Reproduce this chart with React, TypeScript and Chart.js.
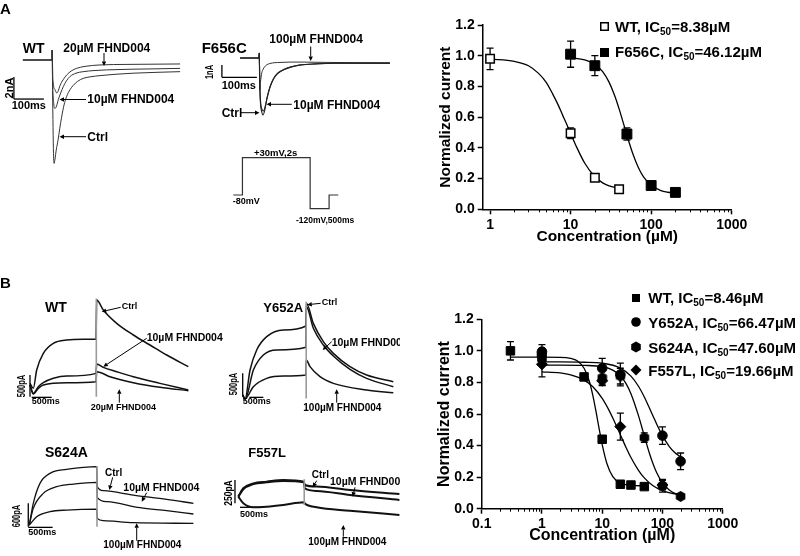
import React, { useEffect, useRef } from "react";
import { Chart, registerables } from "chart.js";

Chart.register(...registerables);

const FONT = '"Liberation Sans", Arial, Helvetica, sans-serif';
Chart.defaults.font.family = FONT;
Chart.defaults.color = "#000";

type XY = [number, number];

// ================= Panel A : dose-response (µM, normalized current) =================
const concA_WT = [1, 10, 20, 40];
const currA_WT = [0.98, 0.495, 0.205, 0.13];
const semA_WT = [0.07, 0.035, 0.015, 0.01];
const concA_F656C = [10, 20, 50, 100, 200];
const currA_F656C = [1.01, 0.935, 0.49, 0.155, 0.11];
const semA_F656C = [0.085, 0.065, 0.04, 0.012, 0.01];

const fitA_WT_conc = [1, 2, 3, 4, 5, 6, 7, 8, 9, 10, 12, 15, 20, 25, 30, 40];
const fitA_WT_curr = [0.978, 0.963, 0.935, 0.885, 0.825, 0.75, 0.68, 0.61, 0.55, 0.495, 0.4, 0.3, 0.212, 0.172, 0.153, 0.137];
const fitA_F656C_conc = [10, 15, 20, 25, 30, 35, 40, 45, 50, 60, 70, 80, 100, 130, 160, 200];
const fitA_F656C_curr = [0.986, 0.973, 0.945, 0.897, 0.828, 0.744, 0.654, 0.564, 0.482, 0.353, 0.267, 0.213, 0.156, 0.123, 0.111, 0.105];

const ticksA = [1, 10, 100, 1000];

// ================= Panel B : dose-response =================
const concB_WT = [0.3, 1, 5, 10, 20, 30, 50];
const currB_WT = [1.0, 0.96, 0.835, 0.44, 0.155, 0.15, 0.14];
const semB_WT = [0.058, 0.03, 0.012, 0.015, 0.012, 0.01, 0.012];
const concB_Y652A = [1, 10, 20, 100, 200];
const currB_Y652A = [0.995, 0.89, 0.85, 0.463, 0.3];
const semB_Y652A = [0.045, 0.063, 0.072, 0.055, 0.053];
const concB_S624A = [1, 10, 20, 50, 100, 200];
const currB_S624A = [0.975, 0.83, 0.84, 0.45, 0.145, 0.078];
const semB_S624A = [0.04, 0.045, 0.05, 0.03, 0.04, 0.012];
const concB_F557L = [1, 10, 20, 100];
const currB_F557L = [0.915, 0.81, 0.52, 0.15];
const semB_F557L = [0.08, 0.03, 0.085, 0.03];

const fitB_WT_conc = [0.3, 1, 2, 3, 4, 5, 6, 7, 8, 9, 10, 12, 15, 20, 30, 50];
const fitB_WT_curr = [0.96, 0.96, 0.959, 0.952, 0.933, 0.89, 0.817, 0.717, 0.604, 0.496, 0.406, 0.285, 0.203, 0.162, 0.148, 0.145];
const fitB_Y652A_conc = [1, 2, 5, 10, 20, 30, 40, 50, 60, 70, 80, 100, 130, 160, 200];
const fitB_Y652A_curr = [0.93, 0.93, 0.928, 0.922, 0.891, 0.84, 0.776, 0.708, 0.643, 0.586, 0.537, 0.463, 0.394, 0.356, 0.328];
const fitB_S624A_conc = [1, 2, 5, 10, 15, 20, 25, 30, 40, 50, 60, 70, 80, 100, 130, 160, 200];
const fitB_S624A_curr = [0.91, 0.91, 0.908, 0.9, 0.878, 0.842, 0.791, 0.729, 0.59, 0.461, 0.358, 0.283, 0.229, 0.163, 0.118, 0.097, 0.085];
const fitB_F557L_conc = [1, 2, 3, 5, 7, 10, 13, 16, 20, 25, 30, 40, 50, 70, 100, 150, 200];
const fitB_F557L_curr = [0.867, 0.86, 0.848, 0.815, 0.773, 0.699, 0.623, 0.551, 0.469, 0.386, 0.324, 0.243, 0.195, 0.145, 0.114, 0.096, 0.0895];

const ticksB = [0.1, 1, 10, 100, 1000];

// ================= Current traces (time ms, current) =================
// A, WT (nA)
const aWT_ctrl: XY[] = [[-97, 0], [0, 0], [0.5, 0.9], [2, -3], [5, -8.5], [7, -9.4], [10, -9.0], [14, -8.2], [20, -7.3], [26, -6.2], [32, -5.2], [40, -4.1], [49, -3.3], [60, -2.7], [71, -2.3], [85, -1.95], [104, -1.67], [130, -1.52], [160, -1.42], [210, -1.3], [270, -1.2], [350, -1.12], [427, -1.06]];
const aWT_10: XY[] = [[-97, 0], [0, 0], [0.5, 0.9], [2, -2], [6, -4], [10, -4.4], [15, -4.2], [21, -3.6], [29, -3.0], [38, -2.4], [48, -1.9], [60, -1.5], [80, -1.2], [104, -1.06], [140, -0.96], [182, -0.9], [260, -0.84], [350, -0.8], [427, -0.76]];
const aWT_20: XY[] = [[-97, 0], [0, 0], [0.5, 0.9], [3, -1.8], [10, -2.7], [16, -3.0], [21, -2.8], [27, -2.3], [37, -1.8], [49, -1.36], [64, -1.0], [82, -0.76], [110, -0.58], [160, -0.45], [250, -0.4], [427, -0.36]];
// A, F656C (nA)
const aF_ctrl: XY[] = [[-54, 0], [0, 0], [0.5, 0.4], [3, -3], [8, -4.4], [11.4, -4.63], [16, -4.3], [22, -3.41], [30, -2.5], [40, -1.79], [52, -1.3], [69, -0.98], [90, -0.74], [117, -0.57], [160, -0.48], [211, -0.43], [300, -0.42], [374, -0.42]];
const aF_10: XY[] = [[-54, 0], [0, 0], [0.5, 0.4], [3, -2.8], [9, -4.2], [13, -4.3], [18, -3.9], [24, -3.1], [32, -2.3], [42, -1.65], [55, -1.2], [72, -0.92], [95, -0.7], [120, -0.56], [170, -0.47], [220, -0.43], [374, -0.42]];
const aF_100: XY[] = [[-54, 0], [0, 0], [0.5, 0.4], [2, -2.6], [4, -2.0], [8, -1.2], [12, -0.9], [20, -0.6], [31, -0.45], [60, -0.36], [117, -0.33], [200, -0.36], [374, -0.41]];
// Voltage protocol (s, mV)
const protoTime = [0, 0.27, 2.27, 2.83, 3.1];
const protoMv = [-80, 30, -120, -80, -80];

// B, WT (pA)
const bWT_ctrl: XY[] = [[0, 308], [83, 193], [167, 616], [333, 1001], [583, 1232], [917, 1309], [1333, 1324], [1650, 1324], [1667, 2233], [1833, 2002], [2167, 1694], [2583, 1425], [3000, 1194], [3417, 963], [3958, 693]];
const bWT_10: XY[] = [[0, 270], [83, 77], [208, 231], [333, 323], [583, 424], [917, 477], [1650, 539], [1667, 755], [1833, 678], [2167, 578], [2583, 462], [3250, 308], [3958, 154]];
const bWT_20: XY[] = [[0, 270], [83, 62], [208, 193], [333, 270], [917, 323], [1650, 347], [1667, 578], [2000, 462], [2583, 323], [3250, 216], [3958, 139]];
// B, Y652A (pA)
const bY_ctrl: XY[] = [[0, 36], [83, -57], [262, 571], [500, 1000], [857, 1285], [1452, 1428], [2261, 1514], [2275, 1999], [2523, 1571], [2880, 1178], [3237, 928], [3832, 643], [4427, 464], [5379, 321]];
const bY_10: XY[] = [[0, 36], [83, -57], [381, 571], [738, 893], [1214, 1000], [2261, 1057], [2275, 1928], [2523, 1464], [2880, 1107], [3237, 871], [3832, 585], [4427, 393], [5379, 214]];
const bY_100: XY[] = [[0, 36], [83, -43], [381, 214], [857, 393], [1452, 443], [2261, 464], [2270, 785], [2404, 643], [2761, 428], [3237, 286], [4427, 143], [5379, 86]];
// B, S624A (pA)
const bS_ctrl: XY[] = [[0, 43], [82, 600], [219, 1114], [425, 1371], [767, 1474], [1110, 1525], [1384, 1543], [1397, 1028], [1521, 926], [2137, 814], [2822, 703], [3370, 600]];
const bS_10: XY[] = [[0, 43], [82, 471], [288, 857], [562, 1028], [904, 1097], [1384, 1140], [1397, 746], [1589, 643], [2274, 488], [2822, 411], [3370, 326]];
const bS_100: XY[] = [[0, 43], [151, 257], [425, 386], [767, 428], [1384, 454], [1397, 214], [1521, 154], [2137, 103], [3370, 86]];
// B, F557L (pA)
const bF_ctrl: XY[] = [[0, 71], [107, 161], [321, 214], [607, 232], [964, 250], [1407, 232], [1421, 196], [1678, 179], [2392, 143], [3450, 100]];
const bF_10: XY[] = [[0, 71], [107, 150], [321, 205], [607, 225], [964, 240], [1407, 225], [1421, 161], [1678, 132], [2392, 89], [3450, 36]];
const bF_100: XY[] = [[0, 71], [107, 0], [321, -43], [607, -36], [964, -18], [1407, 11], [1421, 0], [1678, -43], [2392, -79], [3450, -125]];

// ================= helpers =================
const toPts = (xs: number[], ys: number[]) => xs.map((x, i) => ({ x, y: ys[i] }));

const errorBarPlugin = {
  id: "errorBars",
  beforeDatasetsDraw(chart: any) {
    const ctx = chart.ctx;
    const ys = chart.scales.y;
    chart.data.datasets.forEach((ds: any, i: number) => {
      if (!ds.errors) return;
      const meta = chart.getDatasetMeta(i);
      ctx.save();
      ctx.strokeStyle = "#000";
      ctx.lineWidth = 1.3;
      ctx.beginPath();
      meta.data.forEach((pt: any, j: number) => {
        const e = ds.errors[j];
        if (!e) return;
        const v = ds.data[j].y;
        const yT = ys.getPixelForValue(v + e);
        const yB = ys.getPixelForValue(v - e);
        const x = pt.x;
        ctx.moveTo(x, yT);
        ctx.lineTo(x, yB);
        ctx.moveTo(x - 3.5, yT);
        ctx.lineTo(x + 3.5, yT);
        ctx.moveTo(x - 3.5, yB);
        ctx.lineTo(x + 3.5, yB);
      });
      ctx.stroke();
      ctx.restore();
    });
  },
};

const minorTickPlugin = {
  id: "minorTicks",
  afterDraw(chart: any, _a: any, opts: any) {
    const xs = chart.scales.x;
    const ctx = chart.ctx;
    const y0 = chart.chartArea.bottom;
    ctx.save();
    ctx.strokeStyle = "#000";
    ctx.lineWidth = 1;
    ctx.beginPath();
    (opts.values || []).forEach((v: number) => {
      const px = Math.round(xs.getPixelForValue(v)) + 0.5;
      ctx.moveTo(px, y0);
      ctx.lineTo(px, y0 + 3);
    });
    ctx.stroke();
    ctx.restore();
  },
};

function minorValues(decades: number[]) {
  const out: number[] = [];
  decades.forEach((d) => {
    for (let m = 2; m <= 9; m++) out.push(m * d);
  });
  return out;
}

function pointSet(conc: number[], curr: number[], sem: number[], shape: any, r: number, fill: string, bw = 1) {
  return {
    data: toPts(conc, curr),
    errors: sem,
    showLine: false,
    pointStyle: shape,
    pointRadius: r,
    pointHoverRadius: r,
    pointBackgroundColor: fill,
    pointBorderColor: "#000",
    pointBorderWidth: bw,
    order: 0,
  };
}
function curveSet(conc: number[], curr: number[]) {
  return {
    data: toPts(conc, curr),
    showLine: true,
    pointRadius: 0,
    borderColor: "#000",
    borderWidth: 1.3,
    cubicInterpolationMode: "monotone",
    fill: false,
    order: 1,
  };
}

function hexagon(d: number) {
  const c = document.createElement("canvas");
  c.width = d;
  c.height = d;
  const g = c.getContext("2d")!;
  g.fillStyle = "#000";
  g.beginPath();
  for (let k = 0; k < 6; k++) {
    const a = -Math.PI / 2 + (k * Math.PI) / 3;
    const px = d / 2 + (d / 2) * Math.cos(a);
    const py = d / 2 + (d / 2) * Math.sin(a);
    if (k === 0) g.moveTo(px, py);
    else g.lineTo(px, py);
  }
  g.closePath();
  g.fill();
  return c;
}

const tickFont = { family: FONT, size: 14, weight: "bold" as const };

function doseOptions(p: any) {
  return {
    responsive: false,
    animation: false,
    events: [],
    layout: { padding: p.padding },
    plugins: { legend: { display: false }, tooltip: { enabled: false }, minorTicks: { values: p.minor } },
    scales: {
      x: {
        type: "logarithmic",
        min: p.xMin,
        max: p.xMax,
        afterBuildTicks: (s: any) => {
          s.ticks = p.majors.map((v: number) => ({ value: v }));
        },
        afterFit: (s: any) => {
          s.height = p.xHeight;
        },
        ticks: { autoSkip: false, maxRotation: 0, padding: 2, color: "#000", font: tickFont, callback: (v: any) => String(v) },
        grid: { drawOnChartArea: false, tickLength: 5, tickWidth: 1.5, tickColor: "#000" },
        border: { display: true, color: "#000", width: 1.5 },
        title: { display: true, text: "Concentration (µM)", color: "#000", padding: 0, font: { family: FONT, size: p.titleSize, weight: "bold" } },
      },
      y: {
        type: "linear",
        min: 0,
        max: 1.2,
        afterFit: (s: any) => {
          s.width = p.yWidth;
        },
        ticks: { stepSize: 0.2, padding: 3, color: "#000", font: tickFont, callback: (v: any) => Number(v).toFixed(1) },
        grid: { drawOnChartArea: false, tickLength: 5, tickWidth: 1.5, tickColor: "#000" },
        border: { display: true, color: "#000", width: 1.5 },
        title: { display: true, text: "Normalized current", color: "#000", padding: 0, font: { family: FONT, size: p.titleSize, weight: "bold" } },
      },
    },
  };
}

function DoseChartA() {
  const ref = useRef<HTMLCanvasElement>(null);
  useEffect(() => {
    const chart = new Chart(ref.current as HTMLCanvasElement, {
      type: "scatter",
      data: {
        datasets: [
          pointSet(concA_WT, currA_WT, semA_WT, "rect", 6, "#fff", 1.5),
          pointSet(concA_F656C, currA_F656C, semA_F656C, "rect", 7, "#000"),
          curveSet(fitA_WT_conc, fitA_WT_curr),
          curveSet(fitA_F656C_conc, fitA_F656C_curr),
        ] as any,
      },
      options: doseOptions({
        padding: { left: 36, right: 68.3, top: 25, bottom: 19 },
        xMin: 0.81,
        xMax: 1000,
        majors: ticksA,
        minor: minorValues([1, 10, 100]),
        xHeight: 36.7,
        yWidth: 46.7,
        titleSize: 15.5,
      }) as any,
      plugins: [errorBarPlugin, minorTickPlugin],
    });
    return () => chart.destroy();
  }, []);
  return <canvas ref={ref} width={400} height={265} style={{ position: "absolute", left: 400, top: 0, width: 400, height: 265 }} />;
}

function DoseChartB() {
  const ref = useRef<HTMLCanvasElement>(null);
  useEffect(() => {
    const hex = hexagon(11);
    const chart = new Chart(ref.current as HTMLCanvasElement, {
      type: "scatter",
      data: {
        datasets: [
          pointSet(concB_WT, currB_WT, semB_WT, "rect", 6, "#000"),
          pointSet(concB_S624A, currB_S624A, semB_S624A, hex, 5, "#000"),
          pointSet(concB_Y652A, currB_Y652A, semB_Y652A, "circle", 4.8, "#000"),
          pointSet(concB_F557L, currB_F557L, semB_F557L, "rectRot", 5.5, "#000"),
          curveSet(fitB_WT_conc, fitB_WT_curr),
          curveSet(fitB_Y652A_conc, fitB_Y652A_curr),
          curveSet(fitB_S624A_conc, fitB_S624A_curr),
          curveSet(fitB_F557L_conc, fitB_F557L_curr),
        ] as any,
      },
      options: doseOptions({
        padding: { left: 35.4, right: 77.3, top: 49.3, bottom: 10.6 },
        xMin: 0.1,
        xMax: 1000,
        majors: ticksB,
        minor: minorValues([0.1, 1, 10, 100]),
        xHeight: 36.7,
        yWidth: 46.3,
        titleSize: 16,
      }) as any,
      plugins: [errorBarPlugin, minorTickPlugin],
    });
    return () => chart.destroy();
  }, []);
  return <canvas ref={ref} width={400} height={286} style={{ position: "absolute", left: 400, top: 270, width: 400, height: 286 }} />;
}

// -------- trace panels --------
type Rect = { left: number; top: number; width: number; height: number };
type Mapping = { x0: number; sx: number; y0: number; sy: number };
type Trace = { pts: XY[]; width?: number; color?: string; stepped?: boolean };

function TraceChart({ rect, map, traces }: { rect: Rect; map: Mapping; traces: Trace[] }) {
  const ref = useRef<HTMLCanvasElement>(null);
  useEffect(() => {
    const xMin = (rect.left - map.x0) / map.sx;
    const xMax = (rect.left + rect.width - map.x0) / map.sx;
    const yMax = (map.y0 - rect.top) / map.sy;
    const yMin = (map.y0 - rect.top - rect.height) / map.sy;
    const datasets = traces.map((t) => ({
      data: t.pts.map(([x, y]) => ({ x, y })),
      showLine: true,
      pointRadius: 0,
      borderColor: t.color || "#111",
      borderWidth: t.width || 1.2,
      stepped: t.stepped ? "before" : false,
      cubicInterpolationMode: t.stepped ? "default" : "monotone",
      fill: false,
    }));
    const chart = new Chart(ref.current as HTMLCanvasElement, {
      type: "scatter",
      data: { datasets } as any,
      options: {
        responsive: false,
        animation: false,
        events: [],
        layout: { padding: 0 },
        plugins: { legend: { display: false }, tooltip: { enabled: false } },
        scales: {
          x: { type: "linear", display: false, min: xMin, max: xMax },
          y: { type: "linear", display: false, min: yMin, max: yMax },
        },
      } as any,
    });
    return () => chart.destroy();
  }, []);
  return <canvas ref={ref} width={rect.width} height={rect.height} style={{ position: "absolute", left: rect.left, top: rect.top, width: rect.width, height: rect.height }} />;
}

// scale bars as [x, y] segments in data units
const vBar = (x: number, y0: number, y1: number): Trace => ({ pts: [[x, y0], [x, y1]], width: 1.3, color: "#000" });
const hBar = (x0: number, x1: number, y: number): Trace => ({ pts: [[x0, y], [x1, y]], width: 1.3, color: "#000" });
const grey = (x: number, y0: number, y1: number): Trace => ({ pts: [[x, y0], [x + 0.01, y1]], width: 1.6, color: "#9a9a9a" });

// -------- text & arrows --------
function Txt({ x, y, s, t, rot, sx }: { x: number; y: number; s: number; t: any; rot?: boolean; sx?: number }) {
  if (rot) {
    return (
      <div style={{ position: "absolute", left: x, top: y, fontSize: s, lineHeight: `${s}px`, fontWeight: "bold", whiteSpace: "nowrap", transform: `translate(-50%,-50%) rotate(-90deg) scaleX(${sx ?? 1})` }}>{t}</div>
    );
  }
  return <div style={{ position: "absolute", left: x, top: y - 0.13 * s, fontSize: s, lineHeight: `${s}px`, fontWeight: "bold", whiteSpace: "nowrap" }}>{t}</div>;
}

function Arrow({ a }: { a: number[] }) {
  const [x1, y1, x2, y2] = a;
  const ang = Math.atan2(y2 - y1, x2 - x1);
  const L = 4.5;
  const W = 2.2;
  const bx = x2 - L * Math.cos(ang);
  const by = y2 - L * Math.sin(ang);
  const p1 = `${bx + W * Math.sin(ang)},${by - W * Math.cos(ang)}`;
  const p2 = `${bx - W * Math.sin(ang)},${by + W * Math.cos(ang)}`;
  return (
    <g>
      <line x1={x1} y1={y1} x2={bx} y2={by} stroke="#000" strokeWidth={1} />
      <polygon points={`${x2},${y2} ${p1} ${p2}`} fill="#000" />
    </g>
  );
}

const ARROWS = [
  [104, 53, 104, 66],
  [86, 99.5, 59.5, 99.5],
  [86, 136.7, 59.5, 136.7],
  [310.7, 46.5, 310.7, 61],
  [291.7, 104.3, 266.5, 104.3],
  [240.7, 112.7, 259.5, 112.7],
  [120.7, 307.3, 101.7, 311.7],
  [146.7, 338.3, 103.3, 366.7],
  [119.3, 402.7, 119.3, 389.3],
  [320.7, 303.3, 307.3, 304.7],
  [331.7, 341.7, 322.7, 350],
  [336.7, 402.7, 336.7, 389.3],
  [112.7, 477.3, 109.3, 490],
  [146.7, 492.7, 141.7, 501.7],
  [136.7, 540.7, 136.7, 523.3],
  [316.7, 480.7, 312.7, 487.3],
  [355, 487.3, 352.7, 496.7],
  [343.3, 536.7, 343.3, 525],
];

const Sub = ({ children }: any) => <span style={{ fontSize: 10, verticalAlign: "-3px", lineHeight: 0 }}>{children}</span>;
const ic = (name: string, val: string) => (
  <>
    {name}, IC<Sub>50</Sub>={val}µM
  </>
);

export default function App() {
  const mWTa: Mapping = { x0: 52, sx: 0.3, y0: 60, sy: 11 };
  const mFa: Mapping = { x0: 259, sx: 0.35, y0: 58, sy: 12.3 };
  const mProto: Mapping = { x0: 233.3, sx: 33.85, y0: 167.8, sy: 0.34 };
  const mWTb: Mapping = { x0: 30, sx: 0.04, y0: 396.7, sy: 0.0433 };
  const mYb: Mapping = { x0: 242.7, sx: 0.028, y0: 396.7, sy: 0.0467 };
  const mSb: Mapping = { x0: 29.3, sx: 0.0487, y0: 526.7, sy: 0.0389 };
  const mFb: Mapping = { x0: 238.3, sx: 0.0467, y0: 503.3, sy: 0.0933 };

  return (
    <div style={{ position: "absolute", left: 0, top: 0, width: 800, height: 556, background: "#fff", overflow: "hidden", fontFamily: FONT, color: "#000" }}>
      <div style={{ position: "absolute", left: 0, top: 0, width: 400, height: 556, overflow: "hidden" }}>
        <TraceChart
          rect={{ left: 0, top: 35, width: 185, height: 140 }}
          map={mWTa}
          traces={[
            { pts: aWT_ctrl, color: "#333", width: 1 },
            { pts: aWT_10, color: "#333", width: 1 },
            { pts: aWT_20, color: "#333", width: 1 },
            vBar(-127, -3.55, -1.55),
            hBar(-127, -27, -3.55),
          ]}
        />
        <TraceChart
          rect={{ left: 195, top: 30, width: 200, height: 95 }}
          map={mFa}
          traces={[
            { pts: aF_ctrl, color: "#222", width: 1.1 },
            { pts: aF_10, color: "#222", width: 1.1 },
            { pts: aF_100, color: "#333", width: 1 },
            vBar(-106, -1.57, -0.57),
            hBar(-106, -6, -1.57),
          ]}
        />
        <TraceChart
          rect={{ left: 225, top: 150, width: 120, height: 70 }}
          map={mProto}
          traces={[{ pts: protoTime.map((t, i) => [t, protoMv[i]] as XY), color: "#333", width: 1.2, stepped: true }]}
        />
        <TraceChart
          rect={{ left: 15, top: 290, width: 185, height: 130 }}
          map={mWTb}
          traces={[
            grey(1658, 2270, 0),
            { pts: bWT_ctrl, width: 1.5 },
            { pts: bWT_10, width: 1.5 },
            { pts: bWT_20, width: 1.5 },
            vBar(0, 0, 500),
            hBar(42, 542, -15),
          ]}
        />
        <TraceChart
          rect={{ left: 220, top: 290, width: 180, height: 130 }}
          map={mYb}
          traces={[
            grey(2268, 2035, -36),
            { pts: bY_ctrl, width: 1.5 },
            { pts: bY_10, width: 1.5 },
            { pts: bY_100, width: 1.5 },
            vBar(0, 0, 500),
            hBar(238, 738, -14),
          ]}
        />
        <TraceChart
          rect={{ left: 15, top: 440, width: 185, height: 100 }}
          map={mSb}
          traces={[
            grey(1390, 1560, 0),
            { pts: bS_ctrl, width: 1.3 },
            { pts: bS_10, width: 1.3 },
            { pts: bS_100, width: 1.3 },
            vBar(-21, 0, 600),
            hBar(-21, 479, -17),
          ]}
        />
        <TraceChart
          rect={{ left: 220, top: 440, width: 180, height: 100 }}
          map={mFb}
          traces={[
            grey(1412, 257, -18),
            { pts: bF_ctrl, width: 2 },
            { pts: bF_10, width: 2 },
            { pts: bF_100, width: 2 },
            vBar(-71, 0, 250),
            hBar(36, 536, -43),
          ]}
        />
        <svg width={400} height={556} style={{ position: "absolute", left: 0, top: 0 }}>
          {ARROWS.map((a, i) => (
            <Arrow key={i} a={a} />
          ))}
        </svg>

        <Txt x={0} y={3} s={15} t="A" />
        <Txt x={22.7} y={42.7} s={14} t="WT" />
        <Txt x={63.3} y={43.3} s={12} t="20µM FHND004" />
        <Txt x={87.3} y={95} s={12} t="10µM FHND004" />
        <Txt x={87.3} y={132.7} s={12} t="Ctrl" />
        <Txt x={8.8} y={88} s={11} t="2nA" rot />
        <Txt x={11.7} y={101.7} s={11} t="100ms" />

        <Txt x={201.7} y={41.5} s={15} t="F656C" />
        <Txt x={269.3} y={35} s={12} t="100µM FHND004" />
        <Txt x={293.3} y={100.5} s={12} t="10µM FHND004" />
        <Txt x={221.7} y={108.5} s={12} t="Ctrl" />
        <Txt x={209.5} y={71.5} s={10} t="1nA" rot sx={0.75} />
        <Txt x={221.7} y={81.7} s={11} t="100ms" />

        <Txt x={254} y={149} s={9.5} t="+30mV,2s" />
        <Txt x={232.7} y={198.3} s={9} t="-80mV" />
        <Txt x={296} y={216.7} s={8.5} t="-120mV,500ms" />

        <Txt x={0} y={277} s={15} t="B" />
        <Txt x={45} y={302.3} s={14} t="WT" />
        <Txt x={121.7} y={303.3} s={9} t="Ctrl" />
        <Txt x={146.7} y={333} s={10.5} t="10µM FHND004" />
        <Txt x={90.7} y={404} s={9} t="20µM FHND004" />
        <Txt x={22.3} y={386.3} s={10} t="500pA" rot sx={0.75} />
        <Txt x={31.7} y={398.3} s={9} t="500ms" />

        <Txt x={263.3} y={302.3} s={13} t="Y652A" />
        <Txt x={321.7} y={299.3} s={9} t="Ctrl" />
        <Txt x={331.7} y={338.3} s={10.5} t="10µM FHND004" />
        <Txt x={303.3} y={404} s={10} t="100µM FHND004" />
        <Txt x={234} y={384.3} s={10} t="500pA" rot sx={0.75} />
        <Txt x={242.7} y={398.3} s={9} t="500ms" />

        <Txt x={45} y={447.3} s={14} t="S624A" />
        <Txt x={105} y={469.3} s={10} t="Ctrl" />
        <Txt x={123.3} y={483.3} s={10.5} t="10µM FHND004" />
        <Txt x={103.3} y={541.7} s={10} t="100µM FHND004" />
        <Txt x={16.7} y={516} s={10} t="600pA" rot sx={0.75} />
        <Txt x={28.3} y={529.3} s={9} t="500ms" />

        <Txt x={248.3} y={447.3} s={13} t="F557L" />
        <Txt x={311.7} y={471.7} s={10} t="Ctrl" />
        <Txt x={330} y={477.3} s={10.5} t="10µM FHND004" />
        <Txt x={308.3} y={538.3} s={10} t="100µM FHND004" />
        <Txt x={228.7} y={492.7} s={10} t="250pA" rot sx={0.85} />
        <Txt x={240} y={510.7} s={9} t="500ms" />
      </div>

      <DoseChartA />
      <DoseChartB />

      {/* legend A */}
      <svg width={10} height={10} style={{ position: "absolute", left: 599.5, top: 22 }}>
        <rect x={0.75} y={0.75} width={7.5} height={7.5} fill="#fff" stroke="#000" strokeWidth={1.5} />
      </svg>
      <Txt x={615} y={21} s={15} t={ic("WT", "8.38")} />
      <svg width={10} height={10} style={{ position: "absolute", left: 599.5, top: 47.5 }}>
        <rect x={0} y={0} width={9} height={9} fill="#000" />
      </svg>
      <Txt x={615} y={46} s={15} t={ic("F656C", "46.12")} />

      {/* legend B */}
      <svg width={12} height={12} style={{ position: "absolute", left: 630, top: 292 }}>
        <rect x={2} y={2} width={8} height={8} fill="#000" />
      </svg>
      <Txt x={648.3} y={292.3} s={15} t={ic("WT", "8.46")} />
      <svg width={12} height={12} style={{ position: "absolute", left: 630, top: 316 }}>
        <circle cx={6} cy={6} r={4.8} fill="#000" />
      </svg>
      <Txt x={648.3} y={317.3} s={15} t={ic("Y652A", "66.47")} />
      <svg width={12} height={12} style={{ position: "absolute", left: 630, top: 341 }}>
        <polygon points="6,0.5 10.8,3.25 10.8,8.75 6,11.5 1.2,8.75 1.2,3.25" fill="#000" />
      </svg>
      <Txt x={648.3} y={341.7} s={15} t={ic("S624A", "47.60")} />
      <svg width={12} height={12} style={{ position: "absolute", left: 630, top: 364 }}>
        <polygon points="6,0.5 11.5,6 6,11.5 0.5,6" fill="#000" />
      </svg>
      <Txt x={648.3} y={364.7} s={15} t={ic("F557L", "19.66")} />
    </div>
  );
}
